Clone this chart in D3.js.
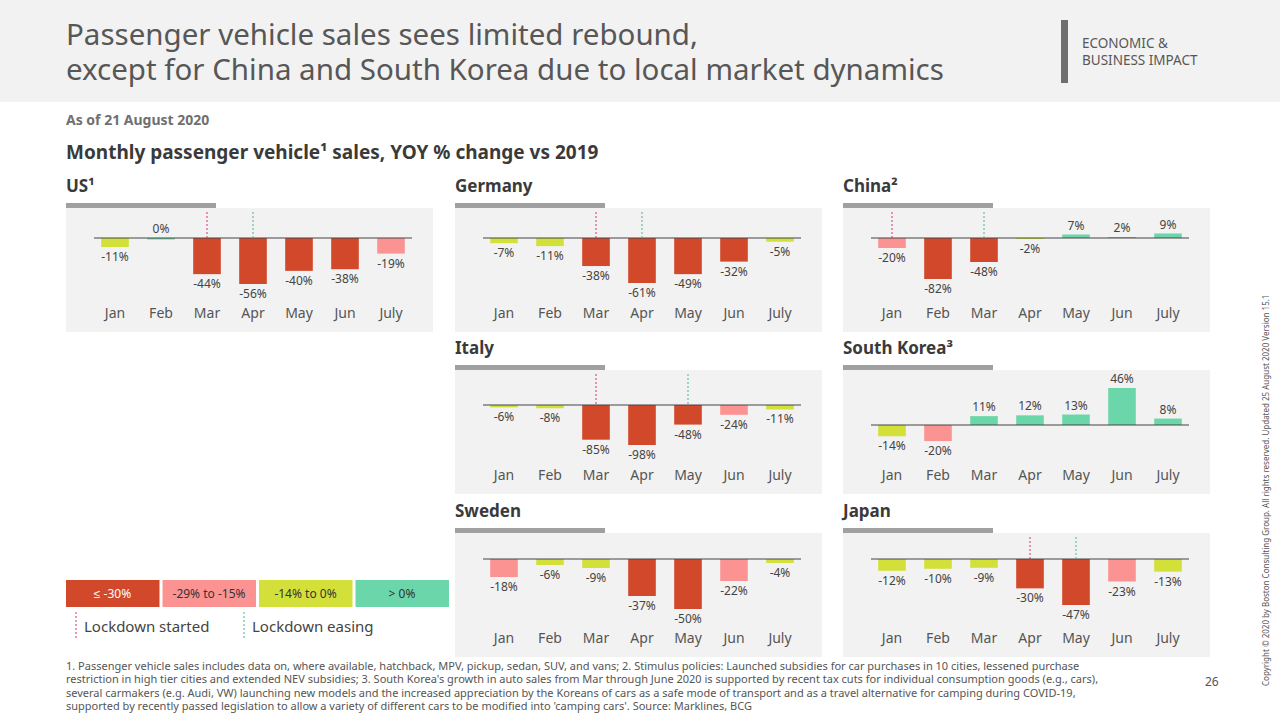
<!DOCTYPE html>
<html><head><meta charset="utf-8">
<script src="https://cdn.jsdelivr.net/npm/d3@7"></script>
<style>body{margin:0;background:#fff;font-family:"Noto Sans",sans-serif}</style>
</head><body><svg id="c" width="1280" height="720"></svg>
<script>
var months = ["Jan","Feb","Mar","Apr","May","Jun","July"];
var countries = ["US¹","Germany","China²","Italy","South Korea³","Sweden","Japan"];
var usVals = [-11,0,-44,-56,-40,-38,-19];
var deVals = [-7,-11,-38,-61,-49,-32,-5];
var cnVals = [-20,-82,-48,-2,7,2,9];
var itVals = [-6,-8,-85,-98,-48,-24,-11];
var krVals = [-14,-20,11,12,13,46,8];
var seVals = [-18,-6,-9,-37,-50,-22,-4];
var jpVals = [-12,-10,-9,-30,-47,-23,-13];
var allVals = [usVals,deVals,cnVals,itVals,krVals,seVals,jpVals];
// lockdown started / easing month index (null = none)
var lockStart = [2,2,0,2,null,null,3];
var lockEase = [3,3,2,4,null,null,4];
var legendLabels = ["≤ -30%","-29% to -15%","-14% to 0%","> 0%"];
var colors = ["#d2482a","#fc9393","#d3e03a","#6ad6a9"];

// layout: panel left, panel top, baseline offset, px span for max |value|
var layout = [
  {x:66,y:208,base:30,span:46},{x:455,y:208,base:30,span:45},{x:843,y:208,base:30,span:41},
  {x:455,y:370,base:35,span:40},{x:843,y:370,base:55,span:37},
  {x:455,y:533,base:26,span:50},{x:843,y:533,base:26,span:46}
];
function colorOf(v){ return v<=-30?colors[0]:v<=-15?colors[1]:v<=0?colors[2]:colors[3]; }

var svg = d3.select("#c");
svg.append("rect").attr("width",1280).attr("height",102).attr("fill","#f2f2f2");
svg.append("text").attr("x",66).attr("y",45).attr("font-size",29.5).attr("fill","#575757").text("Passenger vehicle sales sees limited rebound,");
svg.append("text").attr("x",66).attr("y",80).attr("font-size",29.5).attr("fill","#575757").text("except for China and South Korea due to local market dynamics");
svg.append("rect").attr("x",1061).attr("y",20).attr("width",7).attr("height",63).attr("fill","#6e6e6e");
svg.append("text").attr("x",1082).attr("y",48).attr("font-size",13.5).attr("fill","#575757").text("ECONOMIC &");
svg.append("text").attr("x",1082).attr("y",65).attr("font-size",13.5).attr("fill","#575757").text("BUSINESS IMPACT");
svg.append("text").attr("x",66).attr("y",125).attr("font-size",14).attr("font-weight","bold").attr("fill","#707070").text("As of 21 August 2020");
svg.append("text").attr("x",66).attr("y",159).attr("font-size",19).attr("font-weight","bold").attr("fill","#3a3a3a").text("Monthly passenger vehicle¹ sales, YOY % change vs 2019");

var W = 367, H = 124;
countries.forEach(function(name,i){
  var L = layout[i], vals = allVals[i];
  var g = svg.append("g").attr("transform","translate("+L.x+","+L.y+")");
  g.append("text").attr("x",0).attr("y",-16).attr("font-size",17).attr("font-weight","bold").attr("fill","#3a3a3a").text(name);
  g.append("rect").attr("x",0).attr("y",-5).attr("width",150).attr("height",5).attr("fill","#a0a0a0");
  g.append("rect").attr("width",W).attr("height",H).attr("fill","#f2f2f2");
  var x = d3.scaleBand().domain(months).range([26,348]).paddingInner(0.4).paddingOuter(0.2);
  var m = d3.max(vals,function(v){return Math.abs(v);});
  var y = d3.scaleLinear().domain([-m,m]).range([L.base+L.span,L.base-L.span]);
  g.selectAll(".bar").data(vals).enter().append("rect")
    .attr("x",function(d,j){return x(months[j]);}).attr("width",x.bandwidth())
    .attr("y",function(d){return Math.min(y(d),y(0));})
    .attr("height",function(d){return Math.max(Math.abs(y(d)-y(0)),d===0?1.5:0);})
    .attr("fill",function(d){return d===0?colors[3]:colorOf(d);});
  g.append("line").attr("x1",28).attr("x2",346).attr("y1",y(0)).attr("y2",y(0)).attr("stroke","#444").attr("stroke-width",1);
  g.selectAll(".lab").data(vals).enter().append("text")
    .attr("x",function(d,j){return x(months[j])+x.bandwidth()/2;})
    .attr("y",function(d){return d>=0?y(d)-5:y(d)+14;})
    .attr("text-anchor","middle").attr("font-size",12).attr("fill","#444")
    .text(function(d){return d+"%";});
  var ax = g.append("g").attr("transform","translate(0,"+(H-27)+")").call(d3.axisBottom(x).tickSize(0));
  ax.select(".domain").remove();
  ax.selectAll("text").attr("font-size",14).attr("fill","#555").attr("font-family","Noto Sans");
  [[lockStart[i],"#d6336c"],[lockEase[i],"#4bb591"]].forEach(function(p){
    if(p[0]===null) return;
    var cx = x(months[p[0]])+x.bandwidth()/2;
    g.append("line").attr("x1",cx).attr("x2",cx).attr("y1",4).attr("y2",y(0))
      .attr("stroke",p[1]).attr("stroke-width",1).attr("stroke-dasharray","2,2");
  });
});

var lg = svg.append("g").attr("transform","translate(66,580)");
legendLabels.forEach(function(t,i){
  lg.append("rect").attr("x",i*96.5).attr("width",93.5).attr("height",27).attr("fill",colors[i]);
  lg.append("text").attr("x",i*96.5+46.5).attr("y",18).attr("text-anchor","middle").attr("font-size",12)
    .attr("fill",i===0?"#fff":"#333").text(t);
});
[["Lockdown started",0,"#d6336c"],["Lockdown easing",168,"#4bb591"]].forEach(function(p){
  lg.append("line").attr("x1",p[1]+10).attr("x2",p[1]+10).attr("y1",32).attr("y2",60).attr("stroke",p[2]).attr("stroke-dasharray","2,2");
  lg.append("text").attr("x",p[1]+18).attr("y",52).attr("font-size",15).attr("fill","#444").text(p[0]);
});

var notes = ["1. Passenger vehicle sales includes data on, where available, hatchback, MPV, pickup, sedan, SUV, and vans;  2. Stimulus policies: Launched subsidies for car purchases in 10 cities, lessened purchase",
"restriction in high tier cities and extended NEV subsidies;  3. South Korea's growth in auto sales from Mar through June 2020 is supported by recent tax cuts for individual consumption goods (e.g., cars),",
"several carmakers (e.g. Audi, VW) launching new models and the increased appreciation by the Koreans of cars as a safe mode of transport and as a travel alternative for camping during COVID-19,",
"supported by recently passed legislation to allow a variety of different cars to be modified into 'camping cars'.  Source: Marklines, BCG"];
notes.forEach(function(t,i){
  svg.append("text").attr("x",66).attr("y",670+i*13.3).attr("font-size",11).attr("fill","#555").text(t);
});
svg.append("text").attr("x",1205).attr("y",686).attr("font-size",12).attr("fill","#555").text("26");
svg.append("text").attr("transform","translate(1269,686) rotate(-90)").attr("font-size",8).attr("fill","#555")
  .text("Copyright © 2020 by Boston Consulting Group. All rights reserved. Updated 25 August 2020 Version 15.1");
</script></body></html>
